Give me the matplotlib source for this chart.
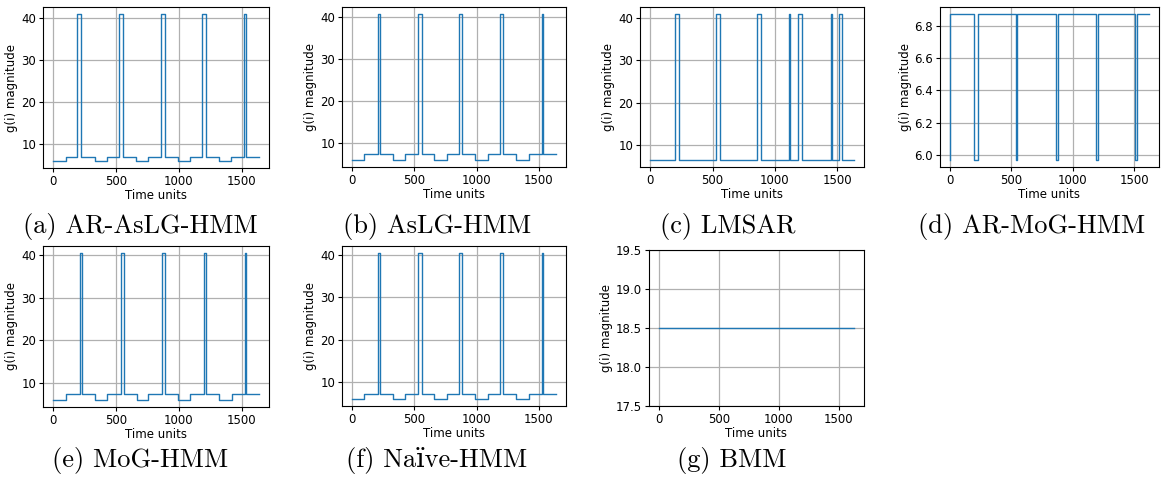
import numpy as np
import matplotlib
matplotlib.use("Agg")
import matplotlib.pyplot as plt

# step series: segment edges (time units) and the level of each segment
edges_a = [0, 100, 192, 224, 331, 427, 520, 557, 659, 757, 856, 888, 992, 1085, 1187, 1219, 1320, 1416, 1515, 1536, 1635]
levels_a = [5.95, 6.88, 40.8, 6.88, 5.95, 6.88, 40.8, 6.88, 5.95, 6.88, 40.8, 6.88, 5.95, 6.88, 40.8, 6.88, 5.95, 6.88, 40.8, 6.88]

edges_b = [0, 98, 205, 226, 327, 428, 532, 559, 657, 758, 859, 886, 987, 1088, 1191, 1215, 1316, 1418, 1527, 1534, 1636]
levels_b = [5.95, 7.22, 40.55, 7.22, 5.95, 7.22, 40.55, 7.22, 5.95, 7.22, 40.55, 7.22, 5.95, 7.22, 40.55, 7.22, 5.95, 7.22, 40.55, 7.22]

edges_c = [0, 200, 231, 524, 559, 856, 888, 1117, 1125, 1184, 1218, 1447, 1455, 1516, 1537, 1633]
levels_c = [6.43, 40.95, 6.43, 40.95, 6.43, 40.95, 6.43, 40.95, 6.43, 40.95, 6.43, 40.95, 6.43, 40.95, 6.43]

edges_d = [0, 3, 198, 225, 535, 548, 861, 877, 1190, 1206, 1502, 1518, 1620]
levels_d = [5.969, 6.872, 5.969, 6.872, 5.969, 6.872, 5.969, 6.872, 5.969, 6.872, 5.969, 6.872]

edges_e = [0, 99, 211, 232, 333, 429, 536, 560, 664, 757, 864, 891, 992, 1085, 1197, 1219, 1320, 1419, 1528, 1536, 1635]
levels_e = [6.06, 7.4, 40.4, 7.4, 6.06, 7.4, 40.4, 7.4, 6.06, 7.4, 40.4, 7.4, 6.06, 7.4, 40.4, 7.4, 6.06, 7.4, 40.4, 7.4]

edges_f = [0, 98, 205, 226, 327, 428, 532, 559, 657, 758, 859, 886, 987, 1088, 1191, 1215, 1316, 1418, 1527, 1534, 1636]
levels_f = [5.96, 7.15, 40.5, 7.15, 5.96, 7.15, 40.5, 7.15, 5.96, 7.15, 40.5, 7.15, 5.96, 7.15, 40.5, 7.15, 5.96, 7.15, 40.5, 7.15]

edges_g = [0, 1630]
levels_g = [18.5]

captions = ["(a) AR-AsLG-HMM", "(b) AsLG-HMM", "(c) LMSAR", "(d) AR-MoG-HMM",
            "(e) MoG-HMM", "(f) Naïve-HMM", "(g) BMM"]

W, H = 1163, 484
fig = plt.figure(figsize=(W / 100, H / 100), dpi=100)

# axes boxes in pixels: left, right, top, bottom
boxes = [(43, 269, 7, 168), (342, 566, 7, 167), (640, 864, 7, 167), (940, 1159, 7, 167),
         (43, 269, 246, 407), (342, 566, 246, 406), (649, 864, 250, 406)]
cap_pos = [(140, 226), (437, 226), (728, 226), (1032, 226),
           (140, 461), (437, 461), (732, 461)]

series = [(edges_a, levels_a), (edges_b, levels_b), (edges_c, levels_c), (edges_d, levels_d),
          (edges_e, levels_e), (edges_f, levels_f), (edges_g, levels_g)]

for i, ((edges, levels), (l, r, t, b)) in enumerate(zip(series, boxes)):
    ax = fig.add_axes([l / W, 1 - b / H, (r - l) / W, (b - t) / H])
    x = np.array(edges)
    y = np.append(levels, levels[-1])
    ax.plot(x, y, drawstyle="steps-post", color="#1f77b4", lw=1.0)
    ax.grid(True, color="#b0b0b0", lw=0.9)
    ax.set_axisbelow(True)
    ax.set_xlabel("Time units", fontsize=8.5, labelpad=1)
    ax.set_ylabel("g(i) magnitude", fontsize=8.5, labelpad=2)
    ax.tick_params(labelsize=8.5, pad=2, length=3)
    ax.set_xticks([0, 500, 1000, 1500])
    if i == 6:
        ax.set_ylim(17.5, 19.5)
        ax.set_yticks([17.5, 18.0, 18.5, 19.0, 19.5])
    cx, cy = cap_pos[i]
    fig.text(cx / W, 1 - cy / H, captions[i], ha="center", va="center",
             fontsize=19, family=["cmr10", "DejaVu Serif"])

fig.savefig("out.png", dpi=100)
